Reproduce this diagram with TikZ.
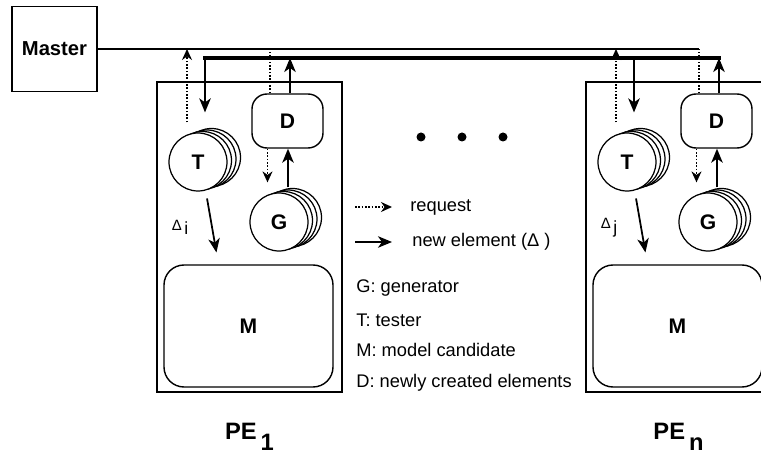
\documentclass[tikz,border=0pt]{standalone}
\usepackage{fontspec}
\setmainfont{Liberation Sans}
\usetikzlibrary{arrows.meta}

\tikzset{
  unit/.style={draw, line width=0.9pt, minimum width=37mm, minimum height=62mm},
  disk/.style={circle, draw, fill=white, line width=0.7pt, minimum size=11.6mm, font=\bfseries\fontsize{12}{14}\selectfont},
  dbox/.style={draw, rounded corners=3mm, line width=0.8pt, minimum width=14.2mm, minimum height=10.8mm, font=\bfseries\fontsize{12}{14}\selectfont},
  mbox/.style={draw, rounded corners=4mm, line width=0.8pt, minimum width=33.8mm, minimum height=24.4mm, font=\bfseries\fontsize{12}{14}\selectfont},
  req/.style={densely dotted, line width=0.9pt, -{Stealth[length=2.2mm,width=2mm]}},
  newel/.style={line width=1pt, -{Stealth[length=2.8mm,width=2.3mm,inset=0.8mm]}},
  bus/.style={line width=1.8pt, line cap=rect},
  legend/.style={anchor=west, inner sep=0pt, font=\fontsize{10.4}{12}\selectfont},
}

\begin{document}
\begin{tikzpicture}[x=0.2mm, y=-0.2mm]
\useasboundingbox (0,0) rectangle (761,454);
\clip (0,0) rectangle (761,454);
\node[draw, line width=0.9pt, minimum size=17mm, font=\bfseries\fontsize{11.5}{13}\selectfont] (Master) at (54.5,49) {Master};
\coordinate (busy) at (0,58);
% the processing elements PE_1 and PE_n
\foreach \o/\n/\s in {0/1/i,429/n/j}{
  \node[unit] (PE\n) at (249.5+\o,237) {};
  \foreach \k in {3,2,1}{
    \draw[line width=0.7pt, fill=white] (198+\o+4.5*\k,162-1.5*\k) circle (29);
    \draw[line width=0.7pt, fill=white] (279+\o+4.5*\k,222-1.5*\k) circle (29);
  }
  \node[disk] (T\n) at (198+\o,162) {T};
  \node[disk] (G\n) at (279+\o,222) {G};
  \node[dbox] (D\n) at (287.5+\o,121) {D};
  \node[mbox] (M\n) at (248.5+\o,326) {M};
  \node[anchor=base, font=\bfseries\fontsize{13.5}{15}\selectfont] (lab\n) at (249.5+\o,440) {PE\,\raisebox{-0.45em}{\n}};
  \coordinate (Treq\n) at ([xshift=-2.2mm]T\n.north);
  \coordinate (Tin\n) at ([xshift=1.4mm]T\n.north);
  \coordinate (Dreq\n) at ([xshift=-3.5mm]D\n.north);
  \coordinate (Dnew\n) at ([xshift=0.5mm]D\n.north);
  \coordinate (Dout\n) at ([xshift=-4mm]D\n.south);
  \coordinate (Gout\n) at ([xshift=1.8mm]G\n.north);
  \draw[req, shorten <=2mm] (Treq\n) -- (Treq\n |- Master.east);
  \draw[densely dotted, line width=0.9pt] (Dreq\n) -- (Dreq\n |- Master.east);
  \draw[newel, shorten >=4mm] (Tin\n |- busy) -- (Tin\n);
  \draw[newel] (Dnew\n) -- (Dnew\n |- busy);
  \draw[req, shorten >=2mm] (Dout\n) -- (Dout\n |- G\n.north);
  \draw[newel, shorten <=1mm] (Gout\n) -- (Gout\n |- D\n.south);
  \draw[newel, shorten <=1.6mm, shorten >=2.4mm] (T\n.-75) -- ([xshift=-6mm]M\n.north)
    node[midway, left=3.4mm, font=\fontsize{8.5}{9}\selectfont] (dl\n) {Δ\,\raisebox{-0.6ex}{\fontsize{10}{11}\selectfont\s}};
}
% buses to the master
\draw[line width=0.7pt] (Master.east) -- (Dreqn |- Master.east);
\draw[bus] (Tin1 |- busy) -- (Dnewn |- busy);
\foreach \x in {421,462,503} \fill (\x,137) circle (4.5);
% legend
\node[legend] (lreq) at (410,207) {request};
\node[legend] (lnew) at (412,242) {new element (Δ )};
\coordinate (areq) at (355,207);
\coordinate (anew) at (355,242);
\draw[req, shorten >=3.6mm] (areq) -- (lreq.west);
\draw[newel, shorten >=4mm] (anew) -- (lnew.west);
\node[legend] (lG) at (356,288) {G: generator};
\node[legend] (lT) at (356,320) {T: tester};
\node[legend] (lM) at (356,350) {M: model candidate};
\node[legend] (lD) at (356,383) {D: newly created elements};
\end{tikzpicture}
\end{document}
